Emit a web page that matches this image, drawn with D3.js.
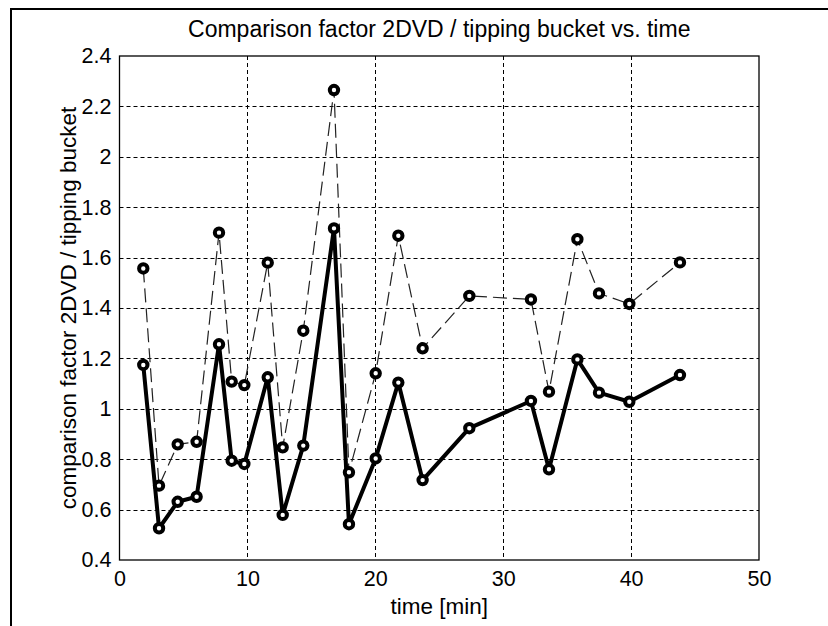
<!DOCTYPE html>
<html>
<head>
<meta charset="utf-8">
<script src="https://cdn.jsdelivr.net/npm/d3@7"></script>
<style>
  html, body { margin: 0; padding: 0; background: #fff; }
  text { font-family: "Liberation Sans", Arial, sans-serif; fill: #000; }
</style>
</head>
<body>
<svg width="828" height="626"></svg>
<script>
// chart values
var timeMin = [1.86, 3.09, 4.55, 6.03, 7.78, 8.77, 9.76, 11.59, 12.76, 14.37, 16.77,
               17.94, 20.03, 21.8, 23.7, 27.35, 32.17, 33.58, 35.8, 37.49, 39.86, 43.82];
var factorDashed = [1.557, 0.695, 0.859, 0.869, 1.699, 1.108, 1.094, 1.58, 0.847, 1.31, 2.265,
                    0.748, 1.141, 1.687, 1.24, 1.448, 1.434, 1.068, 1.673, 1.458, 1.416, 1.581];
var factorSolid = [1.174, 0.526, 0.631, 0.651, 1.256, 0.794, 0.781, 1.125, 0.579, 0.854, 1.716,
                   0.542, 0.803, 1.104, 0.717, 0.923, 1.031, 0.76, 1.196, 1.064, 1.028, 1.134];
var xTicks = [0, 10, 20, 30, 40, 50];
var yTicks = [0.4, 0.6, 0.8, 1, 1.2, 1.4, 1.6, 1.8, 2, 2.2, 2.4];

(function() {
    'use strict';
    var svg = d3.select("svg");

    var left = 119.5, right = 759, top = 56, bottom = 560;

    var x = d3.scaleLinear()
        .domain([0, 50])
        .range([left, right]);

    var y = d3.scaleLinear()
        .domain([0.4, 2.4])
        .range([bottom, top]);

    // outer figure frame (only top and left edge visible)
    svg.append("path")
        .attr("d", "M11,626 V9 H828")
        .attr("fill", "none")
        .attr("stroke", "#000")
        .attr("stroke-width", 2);

    // grid
    var grid = svg.append("g").attr("class", "grid");
    grid.selectAll("line.gx")
        .data(xTicks.slice(1, -1))
        .enter().append("line")
        .attr("class", "gx")
        .attr("x1", function(d) { return Math.round(x(d)) + 0.5; })
        .attr("x2", function(d) { return Math.round(x(d)) + 0.5; })
        .attr("y1", top)
        .attr("y2", bottom)
        .attr("stroke", "#000")
        .attr("stroke-width", 1)
        .attr("stroke-dasharray", "4,3");
    grid.selectAll("line.gy")
        .data(yTicks.slice(1, -1))
        .enter().append("line")
        .attr("class", "gy")
        .attr("y1", function(d) { return Math.round(y(d)) + 0.5; })
        .attr("y2", function(d) { return Math.round(y(d)) + 0.5; })
        .attr("x1", left)
        .attr("x2", right)
        .attr("stroke", "#000")
        .attr("stroke-width", 1)
        .attr("stroke-dasharray", "4,3");

    // axes
    var xAxis = svg.append("g")
        .attr("transform", "translate(0," + bottom + ")")
        .call(d3.axisBottom(x).tickValues(xTicks).tickSize(0).tickPadding(11).tickFormat(d3.format("d")));
    var yAxis = svg.append("g")
        .attr("transform", "translate(" + left + ",0)")
        .call(d3.axisLeft(y).tickValues(yTicks).tickSize(0).tickPadding(8).tickFormat(function(d) { return String(+d.toFixed(1)); }));
    [xAxis, yAxis].forEach(function(a) {
        a.select(".domain").remove();
        a.selectAll("text").attr("font-size", 21.5).attr("font-family", null);
    });
    xAxis.selectAll("text").attr("dy", "0.71em");

    // plot box
    svg.append("rect")
        .attr("x", left)
        .attr("y", top)
        .attr("width", right - left)
        .attr("height", bottom - top)
        .attr("fill", "none")
        .attr("stroke", "#000")
        .attr("stroke-width", 1.3);

    var dashedPts = timeMin.map(function(t, i) { return [t, factorDashed[i]]; });
    var solidPts = timeMin.map(function(t, i) { return [t, factorSolid[i]]; });

    var line = d3.line()
        .x(function(d) { return x(d[0]); })
        .y(function(d) { return y(d[1]); });

    svg.append("path")
        .datum(dashedPts)
        .attr("d", line)
        .attr("fill", "none")
        .attr("stroke", "#222")
        .attr("stroke-width", 1.2)
        .attr("stroke-dasharray", "14,6");

    svg.append("path")
        .datum(solidPts)
        .attr("d", line)
        .attr("fill", "none")
        .attr("stroke", "#000")
        .attr("stroke-width", 4)
        .attr("stroke-linejoin", "round");

    svg.append("g")
        .selectAll("circle")
        .data(dashedPts.concat(solidPts))
        .enter().append("circle")
        .attr("cx", function(d) { return x(d[0]); })
        .attr("cy", function(d) { return y(d[1]); })
        .attr("r", 4.2)
        .attr("fill", "#fff")
        .attr("stroke", "#000")
        .attr("stroke-width", 4);

    // title and labels
    svg.append("text")
        .attr("x", (left + right) / 2)
        .attr("y", 37)
        .attr("text-anchor", "middle")
        .attr("font-size", 23)
        .text("Comparison factor 2DVD / tipping bucket vs. time");

    svg.append("text")
        .attr("x", (left + right) / 2)
        .attr("y", 614)
        .attr("text-anchor", "middle")
        .attr("font-size", 22.5)
        .text("time [min]");

    svg.append("text")
        .attr("transform", "translate(76," + ((top + bottom) / 2) + ") rotate(-90)")
        .attr("text-anchor", "middle")
        .attr("font-size", 22.5)
        .text("comparison factor 2DVD / tipping bucket");
}());
</script>
</body>
</html>
